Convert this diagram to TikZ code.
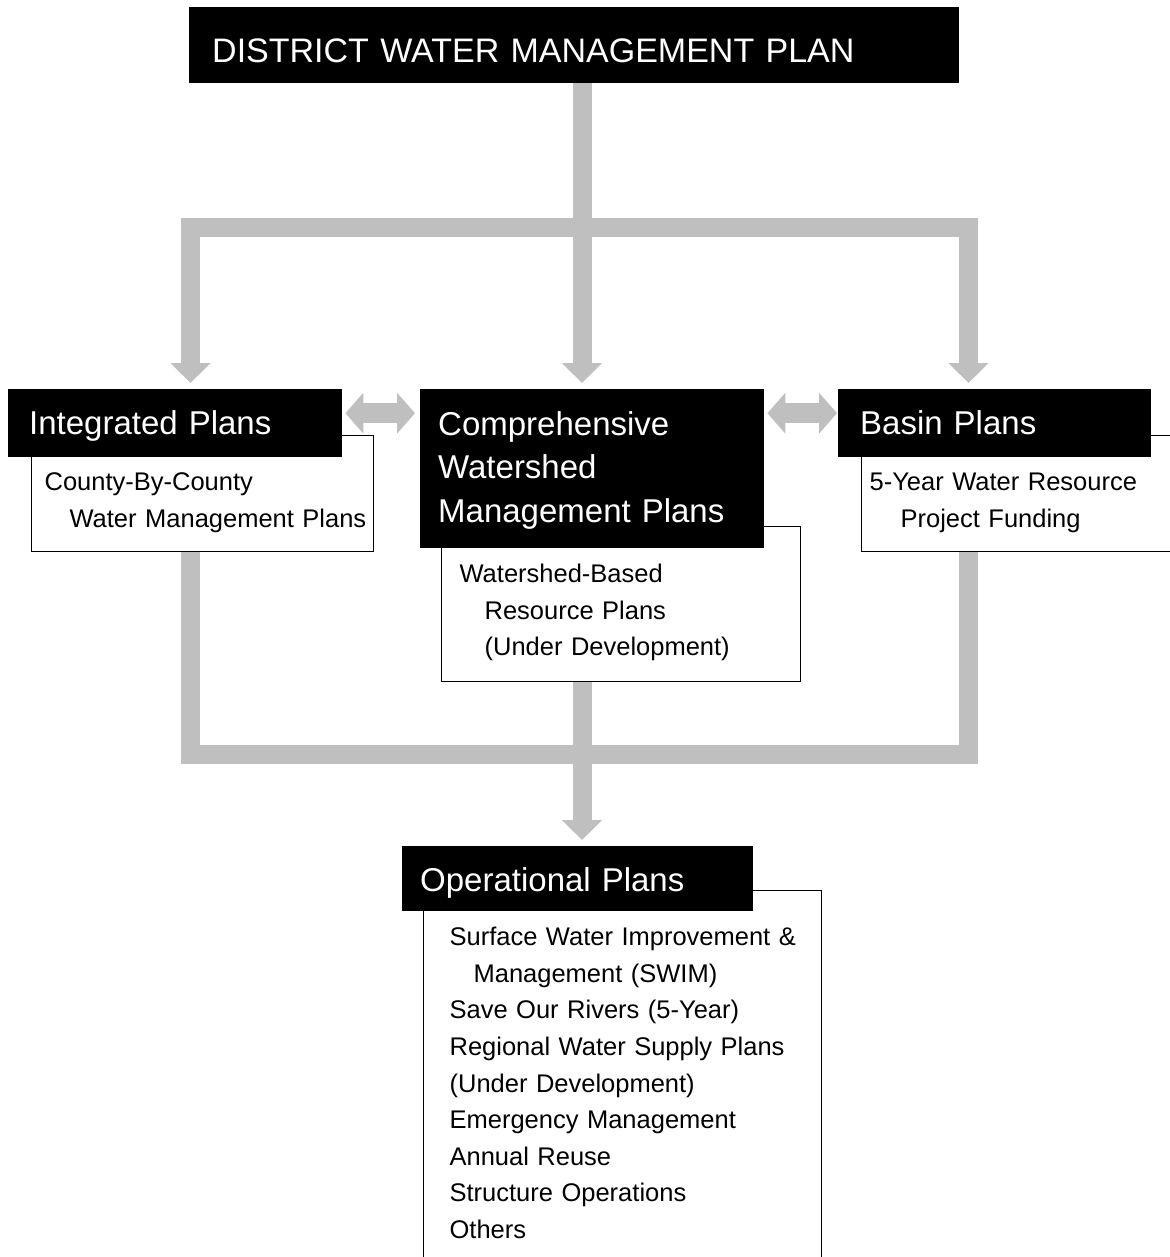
\documentclass[tikz,border=0pt]{standalone}
\usepackage{fontspec}
\setmainfont{Liberation Sans}
\usetikzlibrary{arrows.meta,backgrounds}
\definecolor{conngray}{RGB}{191,191,191}
\begin{document}
\begin{tikzpicture}[x=1pt,y=-1pt,
  hdr/.style={fill=black,text=white,anchor=north west,inner ysep=0pt,align=left,
    font=\fontsize{33}{43.5}\selectfont},
  sub/.style={fill=white,draw=black,line width=1.2pt,anchor=north west,inner ysep=0pt,
    align=left,font=\fontsize{25.5}{36.6}\selectfont},
  trunk/.style={draw=conngray,line width=19pt,line join=miter,line cap=butt},
  downtip/.style={trunk,-{Triangle[width=39pt,length=20pt]}},
  bothtip/.style={trunk,{Triangle[width=39pt,length=20pt]}-{Triangle[width=39pt,length=20pt]}},
  dbl/.style={draw=conngray,line width=20pt,line cap=butt,
    {Triangle[width=40pt,length=18pt]}-{Triangle[width=40pt,length=18pt]}}
]
\useasboundingbox (0,0) rectangle (1169,1257);

% title
\node[hdr,font=\fontsize{34}{40}\selectfont,inner xsep=23pt,text width=724pt,
  text height=55pt,text depth=21pt] (title) at (189,7)
  {\mbox{DISTRICT WATER MANAGEMENT PLAN}};

% integrated plans
\node[sub,inner xsep=13pt,text width=316pt,text height=55pt,text depth=61pt]
  (ibox) at (31,435)
  {\mbox{County-By-County}\\\mbox{\hspace*{25pt}Water Management Plans}};
\node[hdr,inner xsep=21pt,text width=292pt,text height=45pt,text depth=23pt]
  (ihead) at (8,389) {\mbox{Integrated Plans}};

% comprehensive watershed management plans
\node[sub,inner xsep=18pt,text width=323pt,text height=56pt,text depth=99pt]
  (cbox) at (441,526)
  {\mbox{Watershed-Based}\\\mbox{\hspace*{25pt}Resource Plans}\\\mbox{\hspace*{25pt}(Under Development)}};
\node[hdr,inner xsep=18pt,text width=308pt,text height=46pt,text depth=113pt]
  (chead) at (420,389)
  {\mbox{Comprehensive}\\\mbox{Watershed}\\\mbox{Management Plans}};

% basin plans
\node[sub,inner xsep=8pt,text width=324pt,text height=55pt,text depth=61pt]
  (bbox) at (861,435)
  {\mbox{5-Year Water Resource}\\\mbox{\hspace*{31pt}Project Funding}};
\node[hdr,inner xsep=22pt,text width=269pt,text height=45pt,text depth=23pt]
  (bhead) at (838,389) {\mbox{Basin Plans}};

% operational plans
\node[sub,inner xsep=26pt,text width=346pt,text height=55pt,text depth=345pt]
  (obox) at (423,890)
  {\mbox{Surface Water Improvement \&}\\
   \mbox{\hspace*{24pt}Management (SWIM)}\\
   \mbox{Save Our Rivers (5-Year)}\\
   \mbox{Regional Water Supply Plans}\\
   \mbox{(Under Development)}\\
   \mbox{Emergency Management}\\
   \mbox{Annual Reuse}\\
   \mbox{Structure Operations}\\
   \mbox{Others}};
\node[hdr,inner xsep=18pt,text width=315pt,text height=45pt,text depth=20pt]
  (ohead) at (402,846) {\mbox{Operational Plans}};

% connectors
\coordinate (lx) at (190.5,0);
\coordinate (rx) at (968.5,0);
\coordinate (jt) at (582,227.5);
\coordinate (jb) at (582,754);

\begin{scope}[on background layer]
\draw[trunk] (title.south -| jt) -- (jt);
\draw[bothtip] ([yshift=6pt]ihead.north -| lx) |- (jt) -| ([yshift=6pt]bhead.north -| rx);
\draw[downtip] (jt) -- ([yshift=6pt]chead.north -| jt);

\draw[trunk] (ibox.south -| lx) |- (jb) -| (bbox.south -| rx);
\draw[downtip] (cbox.south -| jb) -- ([yshift=6pt]ohead.north -| jb);

\draw[dbl] ([xshift=3pt,yshift=10pt]ihead.east) -- ([xshift=-5pt,yshift=10pt]ihead.east -| chead.west);
\draw[dbl] ([xshift=3pt,yshift=10pt]ihead.east -| chead.east) -- ([xshift=-1pt,yshift=10pt]ihead.east -| bhead.west);
\end{scope}
\end{tikzpicture}
\end{document}
